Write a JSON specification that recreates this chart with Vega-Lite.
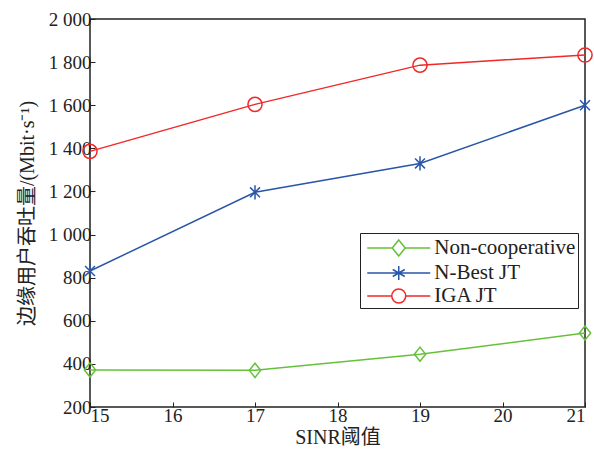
{
  "$schema": "https://vega.github.io/schema/vega-lite/v6.json",
  "width": 495,
  "height": 388,
  "autosize": {"type": "none"},
  "padding": {"left": 90, "top": 19, "right": 9, "bottom": 43},
  "background": "white",
  "config": {
    "view": {"stroke": "#222222", "strokeWidth": 1.5},
    "axis": {
      "domain": false,
      "grid": false,
      "tickColor": "#222222",
      "tickSize": -5,
      "tickWidth": 1,
      "labelFont": "Liberation Serif",
      "labelFontSize": 19,
      "labelColor": "#222222",
      "titleFont": "Liberation Serif, Noto Sans CJK SC",
      "titleFontSize": 20,
      "titleFontWeight": "normal",
      "titleColor": "#222222"
    },
    "legend": {
      "title": null,
      "orient": "none",
      "legendX": 270,
      "legendY": 214,
      "strokeColor": "#222222",
      "fillColor": "white",
      "padding": 2,
      "symbolSize": 576,
      "symbolStrokeWidth": 1.5,
      "symbolOffset": 23.75,
      "rowPadding": 0,
      "labelFont": "Liberation Serif",
      "labelFontSize": 21,
      "labelColor": "#222222",
      "labelOffset": 22.5
    }
  },
  "data": {
    "values": [
      {"snr": 15, "v": 372, "s": "Non-cooperative"},
      {"snr": 17, "v": 370, "s": "Non-cooperative"},
      {"snr": 19, "v": 445, "s": "Non-cooperative"},
      {"snr": 21, "v": 543, "s": "Non-cooperative"},
      {"snr": 15, "v": 831, "s": "N-Best JT"},
      {"snr": 17, "v": 1196, "s": "N-Best JT"},
      {"snr": 19, "v": 1330, "s": "N-Best JT"},
      {"snr": 21, "v": 1600, "s": "N-Best JT"},
      {"snr": 15, "v": 1386, "s": "IGA JT"},
      {"snr": 17, "v": 1604, "s": "IGA JT"},
      {"snr": 19, "v": 1786, "s": "IGA JT"},
      {"snr": 21, "v": 1833, "s": "IGA JT"}
    ]
  },
  "encoding": {
    "x": {
      "field": "snr", "type": "quantitative",
      "scale": {"domain": [15, 21], "nice": false, "zero": false},
      "axis": {"values": [15, 16, 17, 18, 19, 20, 21], "title": "SINR阈值", "labelPadding": 4, "titlePadding": 2}
    },
    "y": {
      "field": "v", "type": "quantitative",
      "scale": {"domain": [200, 2000], "nice": false, "zero": false},
      "axis": {
        "values": [200, 400, 600, 800, 1000, 1200, 1400, 1600, 1800, 2000],
        "labelExpr": "replace(format(datum.value, ','), ',', ' ')",
        "labelPadding": 4,
        "title": "边缘用户吞吐量/(Mbit·s⁻¹)",
        "titlePadding": 11
      }
    }
  },
  "resolve": {"scale": {"shape": "independent", "color": "independent"}, "legend": {"shape": "independent", "color": "independent"}},
  "layer": [
    {
      "mark": {"type": "line", "strokeWidth": 1.5},
      "encoding": {
        "color": {
          "field": "s", "type": "nominal",
          "scale": {"domain": ["Non-cooperative", "N-Best JT", "IGA JT"], "range": ["#66c03a", "#2a56a8", "#f02828"]},
          "legend": null
        }
      }
    },
    {
      "mark": {"type": "point", "filled": false, "strokeWidth": 1.5, "opacity": 1},
      "encoding": {
        "shape": {
          "field": "s", "type": "nominal",
          "scale": {"domain": ["Non-cooperative", "N-Best JT", "IGA JT"], "range": ["M0,-1L0.8,0L0,1L-0.8,0Z", "M0,-1V1M-0.7,-0.7L0.7,0.7M-0.7,0.7L0.7,-0.7", "circle"]},
          "legend": null
        },
        "size": {"value": 200},
        "color": {
          "field": "s", "type": "nominal",
          "scale": {"domain": ["Non-cooperative", "N-Best JT", "IGA JT"], "range": ["#66c03a", "#2a56a8", "#f02828"]},
          "legend": null
        }
      }
    },
    {
      "transform": [{"filter": "datum.v < 0"}],
      "mark": {"type": "point", "filled": false, "strokeWidth": 1.5, "opacity": 1},
      "encoding": {
        "shape": {
          "field": "s", "type": "nominal",
          "scale": {"domain": ["Non-cooperative", "N-Best JT", "IGA JT"], "range": ["M-2.625,0H-0.54M0.54,0H2.625M0,-0.67L0.54,0L0,0.67L-0.54,0Z", "M-2.625,0H2.625M0,-0.58V0.58M-0.5,-0.29L0.5,0.29M-0.5,0.29L0.5,-0.29", "M-2.625,0H-0.58M0.58,0H2.625M0.58,0A0.58,0.58,0,1,1,-0.58,0A0.58,0.58,0,1,1,0.58,0"]},
          "legend": {}
        },
        "color": {
          "field": "s", "type": "nominal",
          "scale": {"domain": ["Non-cooperative", "N-Best JT", "IGA JT"], "range": ["#66c03a", "#2a56a8", "#f02828"]},
          "legend": {}
        }
      }
    }
  ]
}
